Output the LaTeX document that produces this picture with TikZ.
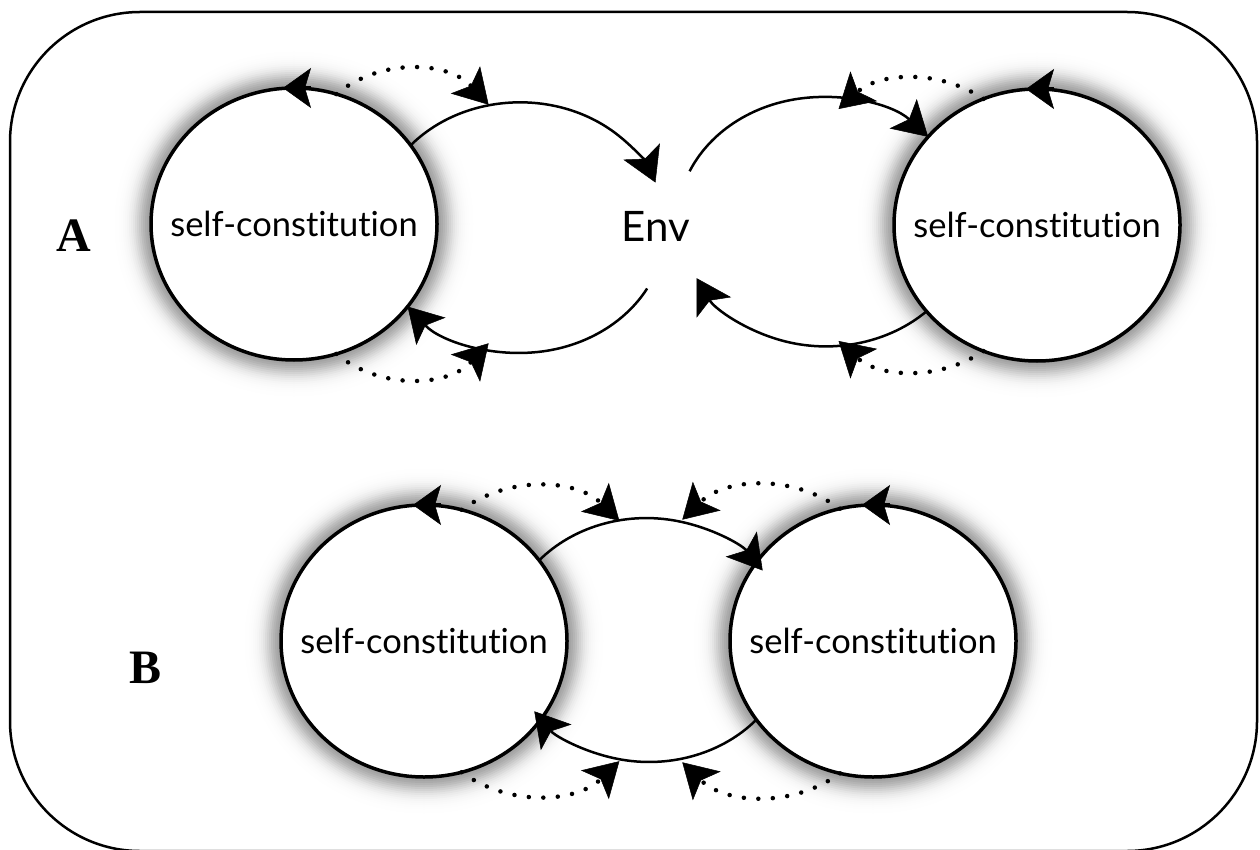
\documentclass[tikz,border=0pt]{standalone}
\usepackage{fontspec}
\setmainfont{Liberation Serif}
\newfontfamily\latofont[Ligatures=NoCommon]{Lato}
\usetikzlibrary{arrows.meta,shapes.geometric,calc}
\begin{document}
\begin{tikzpicture}[x=1pt,y=-1pt,
  selfc/.style={ellipse, draw, line width=3.5pt, fill=white, minimum width=286pt,
    minimum height=272pt, inner sep=0pt, outer sep=0pt,
    font=\latofont\fontsize{34.5}{40}\selectfont},
  arcline/.style={line width=2.5pt},
  dots/.style={line width=4.5pt, line cap=round, dash pattern=on 0pt off 14.5pt},
  tipA/.style={-{Stealth[length=34pt,width=40pt,inset=8pt,line width=0.5pt]}},
  tipR/.style={{Stealth[length=34pt,width=40pt,inset=8pt,line width=0.5pt]}-},
  tipC/.style={-{Stealth[length=28pt,width=40pt,inset=6pt,line width=0.5pt]}},
  lbl/.style={font=\bfseries\fontsize{48}{56}\selectfont, inner sep=0pt}
]
\useasboundingbox (0,0) rectangle (1260,850);
\clip (0,0) rectangle (1260,850);
\draw[line width=2.5pt, rounded corners=130pt] (10,12) rectangle (1257,851);

% soft shadows
\foreach \cx/\cy in {294/224, 1037/225, 424/641, 873/641}{
  \foreach \i in {38,36,...,2}{
    \pgfmathsetmacro\g{38*exp(-1*(\i/16)*(\i/16))}
    \fill[black!\g] (\cx,\cy) ellipse [x radius=143+\i, y radius=136+\i];
  }
}

% circles
\node[selfc] (LA) at (294,224) {\makebox[0pt]{self-constitution}};
\node[selfc] (RA) at (1037,225) {\makebox[0pt]{self-constitution}};
\node[selfc] (LB) at (424,641) {\makebox[0pt]{self-constitution}};
\node[selfc] (RB) at (873,641) {\makebox[0pt]{self-constitution}};
\node[font=\latofont\fontsize{42}{50}\selectfont, inner sep=0pt] (env) at (656,226) {Env};
\node[lbl] (lblA) at (74,236) {A};
\node[lbl] (lblB) at (146,668) {B};

% circle direction arrows
\foreach \n in {LA,RA,LB,RB}{
  \draw[line width=3.5pt, tipC] ($(\n.north)+(17,0)$) -- ($(\n.north)+(-11,0)$);
}

% A: exchange arcs
\draw[arcline, tipA] (LA.34) arc[start angle=-139, end angle=-21, x radius=145, y radius=125];
\draw[arcline, tipR] (LA.-36) arc[start angle=141, end angle=29, x radius=145, y radius=125];
\draw[arcline, tipR] (RA.141) arc[start angle=-43, end angle=-156, x radius=145, y radius=125];
\draw[arcline, tipA] (RA.218) arc[start angle=46, end angle=153, x radius=145, y radius=125];

% A: dotted arcs
\draw[dots, tipA] (LA.72) arc[start angle=-129, end angle=-43, radius=112];
\draw[dots, tipA] (LA.-72) arc[start angle=129, end angle=43, radius=112];
\draw[dots, tipA] (RA.113) arc[start angle=-56, end angle=-132, radius=118];
\draw[dots, tipA] (RA.-113) arc[start angle=56, end angle=132, radius=118];

% B: exchange arcs
\draw[arcline, tipA] (LB.35) arc[start angle=-139, end angle=-35, x radius=142, y radius=123];
\draw[arcline, tipA] (RB.214) arc[start angle=41, end angle=144, x radius=142, y radius=123];

% B: dotted arcs
\draw[dots, tipA] (LB.74) arc[start angle=-126, end angle=-46, radius=123];
\draw[dots, tipA] (RB.104) arc[start angle=-54, end angle=-134, radius=123];
\draw[dots, tipA] (LB.-74) arc[start angle=126, end angle=46, radius=123];
\draw[dots, tipA] (RB.-104) arc[start angle=54, end angle=134, radius=123];
\end{tikzpicture}
\end{document}
